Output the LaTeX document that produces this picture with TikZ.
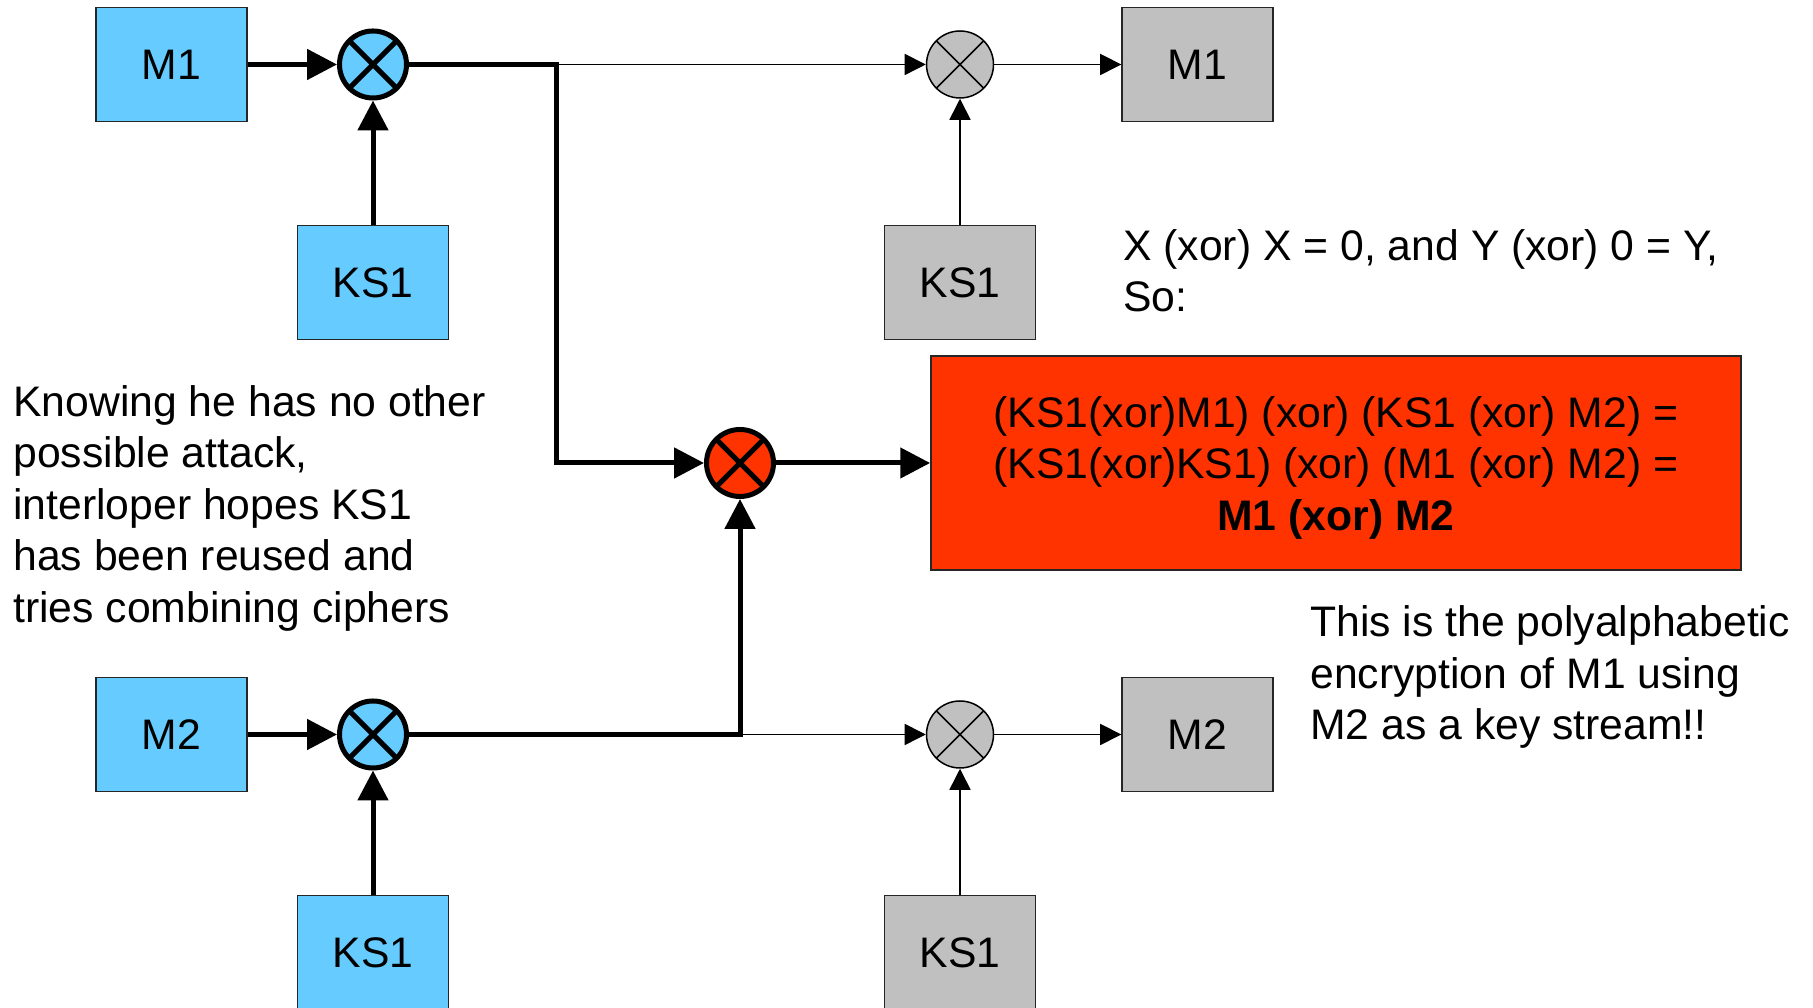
\documentclass[tikz,border=0pt]{standalone}
\usepackage{fontspec}
\setmainfont{Liberation Sans}
\usetikzlibrary{arrows.meta}
\definecolor{biru}{HTML}{66CCFF}
\definecolor{abu}{HTML}{C0C0C0}
\definecolor{merah}{HTML}{FF3300}

\begin{document}
\begin{tikzpicture}[
    every node/.style={font=\fontsize{24.3}{29.3}\selectfont},
    blok/.style={draw=black!85, line width=0.8pt, minimum width=3.02cm, minimum height=2.28cm},
    xorc/.style={circle, draw, line width=#1, inner sep=0pt, minimum size=1.34cm,
        path picture={\draw[line width=#1]
            (path picture bounding box.north west) -- (path picture bounding box.south east)
            (path picture bounding box.north east) -- (path picture bounding box.south west);}},
    tebal/.style={line width=2.85pt, -{Triangle[length=17pt,width=17pt]}},
    tipis/.style={line width=0.85pt, -{Triangle[length=12pt,width=12pt]}},
    teks/.style={inner sep=0pt, align=left}
]

    \useasboundingbox (0,0) rectangle (36.26,20.16);

    % Enkripsi M1
    \node[blok, fill=biru] (m1) at (3.43,18.87) {M1};
    \node[xorc=2.85pt, fill=biru] (xa) at (7.46,18.87) {};
    \node[blok, fill=biru] (ks1a) at (7.46,14.51) {KS1};

    % Enkripsi M2
    \node[blok, fill=biru] (m2) at (3.43,5.47) {M2};
    \node[xorc=2.85pt, fill=biru] (xb) at (7.46,5.47) {};
    \node[blok, fill=biru] (ks1b) at (7.46,1.11) {KS1};

    % Dekripsi biasa
    \node[xorc=0.85pt, fill=abu] (gxa) at (19.2,18.87) {};
    \node[blok, fill=abu] (gm1) at (23.95,18.87) {M1};
    \node[blok, fill=abu] (gks1a) at (19.2,14.51) {KS1};
    \node[xorc=0.85pt, fill=abu] (gxb) at (19.2,5.47) {};
    \node[blok, fill=abu] (gm2) at (23.95,5.47) {M2};
    \node[blok, fill=abu] (gks1b) at (19.2,1.11) {KS1};

    % Gabungan kedua cipher
    \node[xorc=2.85pt, fill=merah] (xr) at (14.8,10.9) {};
    \node[draw=black!85, line width=1pt, fill=merah, minimum width=16.2cm, minimum height=4.28cm]
        (hasil) at (26.72,10.9) {};
    \node[align=center] (rumus) at ([yshift=-0.09cm]hasil.center)
        {(KS1(xor)M1) (xor) (KS1 (xor) M2) =\\(KS1(xor)KS1) (xor) (M1 (xor) M2) =\\\textbf{M1 (xor) M2}};

    % Titik cabang
    \coordinate (ja) at (11.12,18.87);
    \coordinate (jb) at (14.8,5.47);

    % Panah tebal
    \draw[tebal] (m1) -- (xa);
    \draw[tebal] (ks1a) -- (xa);
    \draw[tebal] (m2) -- (xb);
    \draw[tebal] (ks1b) -- (xb);
    \draw[tebal] (xa) -- (ja) |- (xr);
    \draw[tebal] (xb) -- (jb) -- (xr);
    \draw[tebal] (xr) -- (hasil);

    % Panah tipis
    \draw[tipis] (ja) -- (gxa);
    \draw[tipis] (gxa) -- (gm1);
    \draw[tipis] (gks1a) -- (gxa);
    \draw[tipis] (jb) -- (gxb);
    \draw[tipis] (gxb) -- (gm2);
    \draw[tipis] (gks1b) -- (gxb);

    % Keterangan
    \node[teks, anchor=west] (catatan) at (0.26,10.0)
        {Knowing he has no other\\possible attack,\\interloper hopes KS1\\has been reused and\\tries combining ciphers};
    \node[teks, anchor=west] (sifat) at (22.46,14.74)
        {X (xor) X = 0, and Y (xor) 0 = Y,\\So:};
    \node[teks, anchor=west] (polialfa) at (26.2,6.62)
        {This is the polyalphabetic\\encryption of M1 using\\M2 as a key stream!!};

\end{tikzpicture}
\end{document}
